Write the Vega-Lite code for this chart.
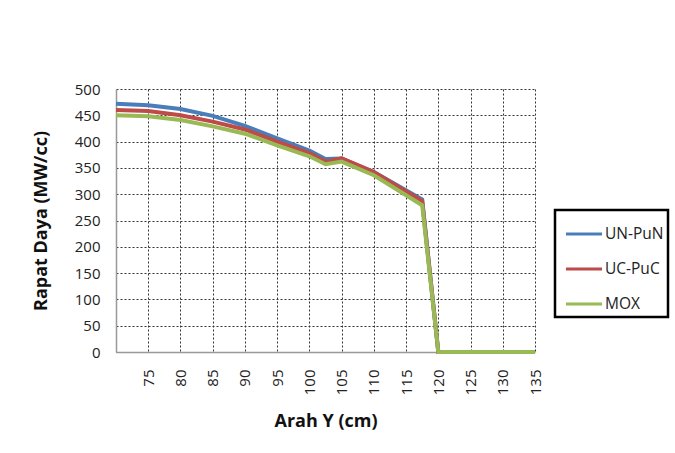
{
  "$schema": "https://vega.github.io/schema/vega-lite/v6.json",
  "autosize": {"type": "none"},
  "width": 419,
  "height": 263,
  "padding": {"left": 116, "top": 89, "right": 140, "bottom": 101},
  "background": "white",
  "config": {
    "view": {"stroke": null},
    "font": "Open Sans",
    "axis": {
      "grid": true,
      "gridColor": "#333",
      "gridDash": [2, 2],
      "gridWidth": 1,
      "ticks": false,
      "tickSize": 0,
      "domainColor": "#999",
      "domainWidth": 1.5,
      "labelFont": "Open Sans",
      "labelFontSize": 15,
      "labelColor": "#222",
      "titleFont": "Open Sans",
      "titleFontSize": 18,
      "titleFontWeight": "bold",
      "titleColor": "#111"
    },
    "legend": {
      "labelFont": "Open Sans",
      "labelFontSize": 15.5,
      "labelColor": "#222"
    }
  },
  "datasets": {
    "pts": [
      {"y": 70, "v": 472, "s": "UN-PuN"},
      {"y": 75, "v": 469, "s": "UN-PuN"},
      {"y": 80, "v": 462, "s": "UN-PuN"},
      {"y": 85, "v": 449, "s": "UN-PuN"},
      {"y": 90, "v": 430, "s": "UN-PuN"},
      {"y": 95, "v": 406, "s": "UN-PuN"},
      {"y": 100, "v": 383, "s": "UN-PuN"},
      {"y": 102.5, "v": 367, "s": "UN-PuN"},
      {"y": 105, "v": 368, "s": "UN-PuN"},
      {"y": 110, "v": 342, "s": "UN-PuN"},
      {"y": 117.5, "v": 290, "s": "UN-PuN"},
      {"y": 120, "v": 0, "s": "UN-PuN"},
      {"y": 135, "v": 0, "s": "UN-PuN"},
      {"y": 70, "v": 460, "s": "UC-PuC"},
      {"y": 75, "v": 458, "s": "UC-PuC"},
      {"y": 80, "v": 450, "s": "UC-PuC"},
      {"y": 85, "v": 438, "s": "UC-PuC"},
      {"y": 90, "v": 423, "s": "UC-PuC"},
      {"y": 95, "v": 400, "s": "UC-PuC"},
      {"y": 100, "v": 378, "s": "UC-PuC"},
      {"y": 102.5, "v": 362, "s": "UC-PuC"},
      {"y": 105, "v": 368, "s": "UC-PuC"},
      {"y": 110, "v": 342, "s": "UC-PuC"},
      {"y": 117.5, "v": 287, "s": "UC-PuC"},
      {"y": 120, "v": 0, "s": "UC-PuC"},
      {"y": 135, "v": 0, "s": "UC-PuC"},
      {"y": 70, "v": 450, "s": "MOX"},
      {"y": 75, "v": 448, "s": "MOX"},
      {"y": 80, "v": 441, "s": "MOX"},
      {"y": 85, "v": 429, "s": "MOX"},
      {"y": 90, "v": 415, "s": "MOX"},
      {"y": 95, "v": 393, "s": "MOX"},
      {"y": 100, "v": 372, "s": "MOX"},
      {"y": 102.5, "v": 357, "s": "MOX"},
      {"y": 105, "v": 362, "s": "MOX"},
      {"y": 110, "v": 336, "s": "MOX"},
      {"y": 117.5, "v": 279, "s": "MOX"},
      {"y": 120, "v": 0, "s": "MOX"},
      {"y": 135, "v": 0, "s": "MOX"}
    ]
  },
  "data": {"name": "pts"},
  "encoding": {
    "x": {
      "field": "y",
      "type": "quantitative",
      "scale": {"domain": [70, 135], "nice": false, "zero": false},
      "axis": {
        "title": "Arah Y (cm)",
        "values": [75, 80, 85, 90, 95, 100, 105, 110, 115, 120, 125, 130, 135],
        "labelAngle": -90,
        "labelAlign": "right",
        "labelBaseline": "middle",
        "labelPadding": 17,
        "titlePadding": 18
      }
    },
    "y": {
      "field": "v",
      "type": "quantitative",
      "scale": {"domain": [0, 500], "nice": false},
      "axis": {
        "title": "Rapat Daya (MW/cc)",
        "values": [0, 50, 100, 150, 200, 250, 300, 350, 400, 450, 500],
        "labelPadding": 16,
        "titlePadding": 24
      }
    },
    "color": {
      "field": "s",
      "type": "nominal",
      "scale": {"domain": ["UN-PuN", "UC-PuC", "MOX"], "range": ["#4A7EBB", "#BE4B48", "#98B954"]},
      "legend": {
        "title": null,
        "orient": "none",
        "legendX": 439,
        "legendY": 121,
        "strokeColor": "black",
        "padding": 4,
        "rowPadding": 6,
        "symbolType": "stroke",
        "symbolSize": 1300,
        "symbolStrokeWidth": 3,
        "symbolOffset": 5,
        "labelOffset": 1,
        "encode": {"legend": {"update": {"strokeWidth": {"value": 2.5}}}}
      }
    }
  },
  "layer": [
    {"transform": [{"filter": "datum.s === 'UN-PuN'"}], "mark": {"type": "line", "strokeWidth": 4}},
    {"transform": [{"filter": "datum.s === 'UC-PuC'"}], "mark": {"type": "line", "strokeWidth": 4}},
    {"transform": [{"filter": "datum.s === 'MOX'"}], "mark": {"type": "line", "strokeWidth": 4}}
  ]
}
